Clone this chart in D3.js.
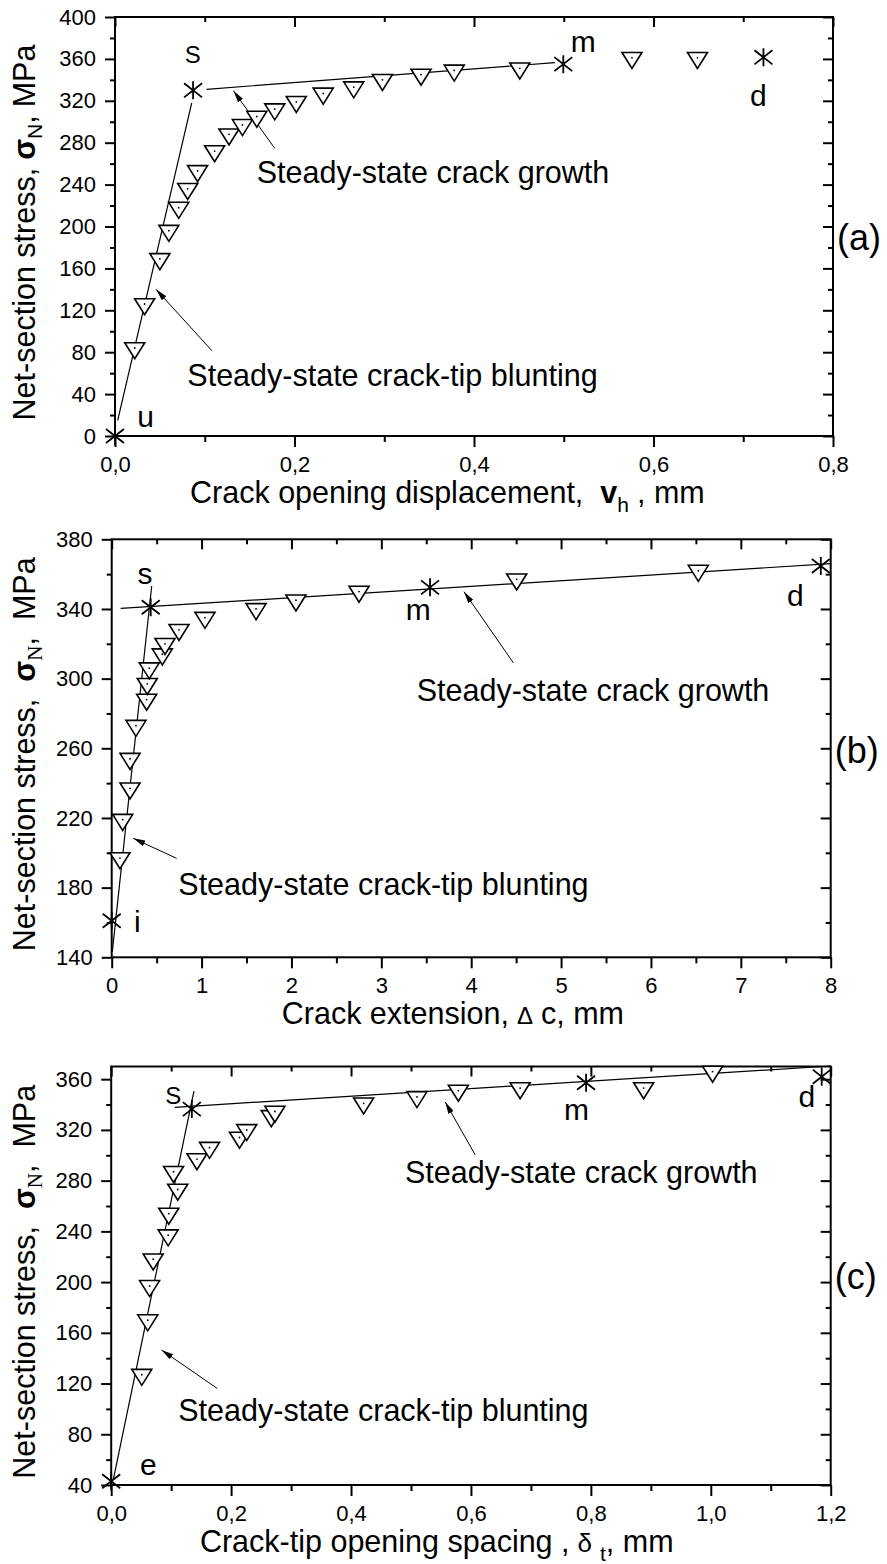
<!DOCTYPE html>
<html>
<head>
<meta charset="utf-8">
<script src="https://cdn.jsdelivr.net/npm/d3@7"></script>
<style>
  body { margin: 0; background: #fff; }
  svg { display: block; }
  text { font-family: "Liberation Sans", Arial, sans-serif; fill: #000; }
</style>
</head>
<body>
<div id="chart"></div>
<script>
// ---- Panel (a): crack opening displacement ----
const aXTicks = [0, 0.2, 0.4, 0.6, 0.8];
const aYTicks = [0, 40, 80, 120, 160, 200, 240, 280, 320, 360, 400];
const aTriangles = [
  [0.022, 84], [0.033, 126], [0.050, 169], [0.060, 196], [0.071, 218],
  [0.081, 236], [0.092, 253], [0.111, 272], [0.127, 288], [0.142, 297],
  [0.158, 305], [0.178, 312], [0.202, 319], [0.232, 327], [0.266, 333],
  [0.298, 340], [0.341, 345], [0.378, 349], [0.451, 351], [0.576, 361],
  [0.649, 361]
];
const aStars = [[0, 0], [0.087, 330], [0.4995, 355], [0.7225, 361.5]];
const aFits = [[0.003, 15, 0.0855, 318], [0.102, 331, 0.490, 356.4]];
const aArrows = [[0.178, 274.6, 0.132, 329.6], [0.108, 81.4, 0.0457, 140]];
const aLetters = [["S", 0.0866, 355.8], ["m", 0.5218, 366.9], ["d", 0.7168, 315], ["u", 0.034, 8.3]];
const aNotes = [["Steady-state crack growth", 0.1579, 241.8], ["Steady-state crack-tip blunting", 0.0806, 48]];

// ---- Panel (b): crack extension ----
const bXTicks = [0, 1, 2, 3, 4, 5, 6, 7, 8];
const bYTicks = [140, 180, 220, 260, 300, 340, 380];
const bTriangles = [
  [0.092, 197], [0.122, 219], [0.204, 237], [0.204, 254], [0.270, 273],
  [0.389, 288], [0.396, 297], [0.418, 306], [0.563, 314], [0.593, 320],
  [0.749, 328], [1.038, 335], [1.606, 340], [2.05, 345], [2.752, 350],
  [4.506, 357], [6.527, 362]
];
const bStars = [[0, 161], [0.434, 341], [3.542, 352.4], [7.89, 364.7]];
const bFits = [[0.0067, 143.2, 0.445, 353.2], [0.1, 340.3, 8.0, 366]];
const bArrows = [[4.469, 309.1, 3.92, 349.9], [0.723, 196.8, 0.24, 208.3]];
const bLetters = [["s", 0.3705, 354.3], ["m", 3.412, 333.7], ["d", 7.607, 341.7], ["i", 0.285, 154.7]];
const bNotes = [["Steady-state crack growth", 3.394, 287.2], ["Steady-state crack-tip blunting", 0.741, 175.8]];

// ---- Panel (c): crack-tip opening spacing ----
const cXTicks = [0, 0.2, 0.4, 0.6, 0.8, 1.0, 1.2];
const cYTicks = [40, 80, 120, 160, 200, 240, 280, 320, 360];
const cTriangles = [
  [0.051, 127], [0.061, 170], [0.064, 197], [0.070, 218], [0.095, 237],
  [0.096, 254], [0.111, 273], [0.104, 287], [0.143, 297], [0.164, 306],
  [0.214, 314], [0.226, 320], [0.267, 331], [0.273, 334.5], [0.421, 341],
  [0.510, 346], [0.579, 351], [0.682, 353], [0.888, 353], [1.003, 366]
];
const cStars = [[0, 43], [0.1345, 336.4], [0.792, 357.2], [1.185, 362]];
const cFits = [[0.0035, 44.3, 0.138, 350.6], [0.106, 337.8, 1.2, 370.4]];
const cArrows = [[0.607, 300.4, 0.557, 342], [0.177, 116.1, 0.084, 146.4]];
const cLetters = [["S", 0.1036, 340.5], ["m", 0.776, 327.9], ["d", 1.1604, 338.4], ["e", 0.0619, 47.9]];
const cNotes = [["Steady-state crack growth", 0.49, 278.4], ["Steady-state crack-tip blunting", 0.1119, 90.8]];

const FONT = '"Liberation Sans", Arial, sans-serif';

// symboles : triangle pointe en bas (centré sur le centroïde) et astérisque
const downTriangle = {
  draw(ctx, size) {
    const w = size / 2, h = size * 0.8;
    ctx.moveTo(-w, -h / 3);
    ctx.lineTo(w, -h / 3);
    ctx.lineTo(0, 2 * h / 3);
    ctx.closePath();
  }
};
const asterisk = {
  draw(ctx, size) {
    const r = size / 2, dy = r * 0.78;
    ctx.moveTo(0, -r); ctx.lineTo(0, r);
    ctx.moveTo(-r, -dy); ctx.lineTo(r, dy);
    ctx.moveTo(-r, dy); ctx.lineTo(r, -dy);
  }
};

const svg = d3.select('#chart').append('svg')
  .attr('width', 887)
  .attr('height', 1564);

svg.append('defs').append('marker')
  .attr('id', 'arrow')
  .attr('viewBox', '0 0 12 6')
  .attr('refX', 12).attr('refY', 3)
  .attr('markerWidth', 12).attr('markerHeight', 6)
  .attr('markerUnits', 'userSpaceOnUse')
  .attr('orient', 'auto')
  .append('path')
  .attr('d', 'M0,0 L12,3 L0,6 Z')
  .attr('fill', '#000');

function styleAxis(sel, minor) {
  sel.attr('font-family', FONT).attr('font-size', 22);
  sel.select('.domain').remove();
  sel.selectAll('.tick line').attr('stroke', '#000').attr('stroke-width', 2);
  sel.selectAll('.tick text').attr('fill', '#000');
  if (minor) sel.selectAll('.tick text').remove();
}

function drawPanel(p) {
  const x = d3.scaleLinear().domain(p.xDomain).range([p.left, p.right]);
  const y = d3.scaleLinear().domain(p.yDomain).range([p.bottom, p.top]);
  const g = svg.append('g');

  const xMinor = d3.pairs(p.xTicks, (a, b) => (a + b) / 2);
  const yMinor = d3.pairs(p.yTicks, (a, b) => (a + b) / 2);
  const fmt = p.decimals ? d => d3.format('.1f')(d).replace('.', ',') : d3.format('d');

  // axes : graduations majeures et mineures sur les quatre côtés
  g.append('g').attr('transform', `translate(0,${p.bottom})`)
    .call(d3.axisBottom(x).tickValues(p.xTicks).tickSize(11).tickPadding(9).tickFormat(fmt))
    .call(s => styleAxis(s, false));
  g.append('g').attr('transform', `translate(0,${p.bottom})`)
    .call(d3.axisBottom(x).tickValues(xMinor).tickSize(6))
    .call(s => styleAxis(s, true));
  g.append('g').attr('transform', `translate(0,${p.top})`)
    .call(d3.axisTop(x).tickValues(p.xTicks).tickSize(-10))
    .call(s => styleAxis(s, true));
  g.append('g').attr('transform', `translate(0,${p.top})`)
    .call(d3.axisTop(x).tickValues(xMinor).tickSize(-5))
    .call(s => styleAxis(s, true));
  g.append('g').attr('transform', `translate(${p.left},0)`)
    .call(d3.axisLeft(y).tickValues(p.yTicks).tickSize(10).tickPadding(9).tickFormat(d3.format('d')))
    .call(s => styleAxis(s, false));
  g.append('g').attr('transform', `translate(${p.left},0)`)
    .call(d3.axisLeft(y).tickValues(yMinor).tickSize(5))
    .call(s => styleAxis(s, true));
  g.append('g').attr('transform', `translate(${p.right},0)`)
    .call(d3.axisRight(y).tickValues(p.yTicks).tickSize(-10))
    .call(s => styleAxis(s, true));
  g.append('g').attr('transform', `translate(${p.right},0)`)
    .call(d3.axisRight(y).tickValues(yMinor).tickSize(-5))
    .call(s => styleAxis(s, true));

  g.append('rect')
    .attr('x', p.left).attr('y', p.top)
    .attr('width', p.right - p.left).attr('height', p.bottom - p.top)
    .attr('fill', 'none').attr('stroke', '#000').attr('stroke-width', 2);

  // droites de tendance
  g.selectAll('.fit').data(p.fits).enter().append('line')
    .attr('x1', d => x(d[0])).attr('y1', d => y(d[1]))
    .attr('x2', d => x(d[2])).attr('y2', d => y(d[3]))
    .attr('stroke', '#000').attr('stroke-width', 1.2);

  // flèches
  g.selectAll('.arrow').data(p.arrows).enter().append('line')
    .attr('x1', d => x(d[0])).attr('y1', d => y(d[1]))
    .attr('x2', d => x(d[2])).attr('y2', d => y(d[3]))
    .attr('stroke', '#000').attr('stroke-width', 1)
    .attr('marker-end', 'url(#arrow)');

  // triangles
  const tri = g.selectAll('.tri').data(p.triangles).enter().append('g')
    .attr('transform', d => `translate(${x(d[0])},${y(d[1])})`);
  tri.append('path')
    .attr('d', d3.symbol().type(downTriangle).size(20)())
    .attr('fill', '#fff').attr('stroke', '#000').attr('stroke-width', 1.6);
  tri.append('circle').attr('r', 0.9).attr('fill', '#000');

  // astérisques
  g.selectAll('.star').data(p.stars).enter().append('path')
    .attr('transform', d => `translate(${x(d[0])},${y(d[1])})`)
    .attr('d', d3.symbol().type(asterisk).size(18)())
    .attr('fill', 'none').attr('stroke', '#000').attr('stroke-width', 1.8);

  // lettres des points caractéristiques
  g.selectAll('.letter').data(p.letters).enter().append('text')
    .attr('x', d => x(d[1])).attr('y', d => y(d[2]))
    .attr('text-anchor', 'middle')
    .style('font-size', d => d[0] === 'S' ? '24px' : '30px')
    .text(d => d[0]);

  g.selectAll('.note').data(p.notes).enter().append('text')
    .attr('x', d => x(d[1])).attr('y', d => y(d[2]))
    .style('font-size', '30.5px')
    .text(d => d[0]);

  // étiquette du panneau
  g.append('text')
    .attr('x', p.right + 4).attr('y', y(p.tagY))
    .style('font-size', '36px')
    .text(p.tag);

  // titre de l'axe Y
  const yl = g.append('text')
    .attr('transform', `translate(35,${(p.top + p.bottom) / 2 + 6}) rotate(-90)`)
    .attr('text-anchor', 'middle')
    .style('font-size', '30.5px');
  yl.append('tspan').text('Net-section stress,');
  yl.append('tspan').attr('dx', p.wideY ? 17 : 8).attr('font-weight', 'bold').text('σ');
  yl.append('tspan').attr('dy', 7).style('font-size', '21px')
    .style('font-family', p.wideY ? '"Liberation Serif", serif' : FONT).text('N');
  yl.append('tspan').attr('dy', -7).text(',');
  yl.append('tspan').attr('dx', p.wideY ? 17 : 8).text('MPa');

  // titre de l'axe X
  const xl = g.append('text')
    .attr('x', x(p.xLabelAt)).attr('y', p.bottom + 67)
    .style('font-size', '30.5px');
  p.xLabel(xl);
}

drawPanel({
  xDomain: [0, 0.8], yDomain: [0, 400],
  left: 115, right: 833, top: 17, bottom: 436,
  xTicks: aXTicks, yTicks: aYTicks, decimals: true,
  triangles: aTriangles, stars: aStars, fits: aFits, arrows: aArrows,
  letters: aLetters, notes: aNotes, tag: '(a)', tagY: 178, wideY: false,
  xLabelAt: 0.0836,
  xLabel: t => {
    t.append('tspan').text('Crack opening displacement,');
    t.append('tspan').attr('dx', 17).attr('font-weight', 'bold').text('v');
    t.append('tspan').attr('dy', 9).style('font-size', '21px').text('h');
    t.append('tspan').attr('dy', -9).attr('dx', 8).text(', mm');
  }
});

drawPanel({
  xDomain: [0, 8], yDomain: [140, 380],
  left: 111.7, right: 830.7, top: 539.3, bottom: 957.3,
  xTicks: bXTicks, yTicks: bYTicks, decimals: false,
  triangles: bTriangles, stars: bStars, fits: bFits, arrows: bArrows,
  letters: bLetters, notes: bNotes, tag: '(b)', tagY: 251.7, wideY: true,
  xLabelAt: 1.892,
  xLabel: t => {
    t.append('tspan').text('Crack extension,');
    t.append('tspan').attr('dx', 8).style('font-size', '24px').text('Δ');
    t.append('tspan').attr('dx', 8).text('c, mm');
  }
});

drawPanel({
  xDomain: [0, 1.2], yDomain: [40, 370],
  left: 111.2, right: 830.7, top: 1066.5, bottom: 1485,
  xTicks: cXTicks, yTicks: cYTicks, decimals: true,
  triangles: cTriangles, stars: cStars, fits: cFits, arrows: cArrows,
  letters: cLetters, notes: cNotes, tag: '(c)', tagY: 194.4, wideY: true,
  xLabelAt: 0.148,
  xLabel: t => {
    t.append('tspan').text('Crack-tip opening spacing ,');
    t.append('tspan').attr('dx', 8).style('font-size', '26px').text('δ');
    t.append('tspan').attr('dx', 8).attr('dy', 9).style('font-size', '21px').text('t');
    t.append('tspan').attr('dy', -9).text(', mm');
  }
});
</script>
</body>
</html>
